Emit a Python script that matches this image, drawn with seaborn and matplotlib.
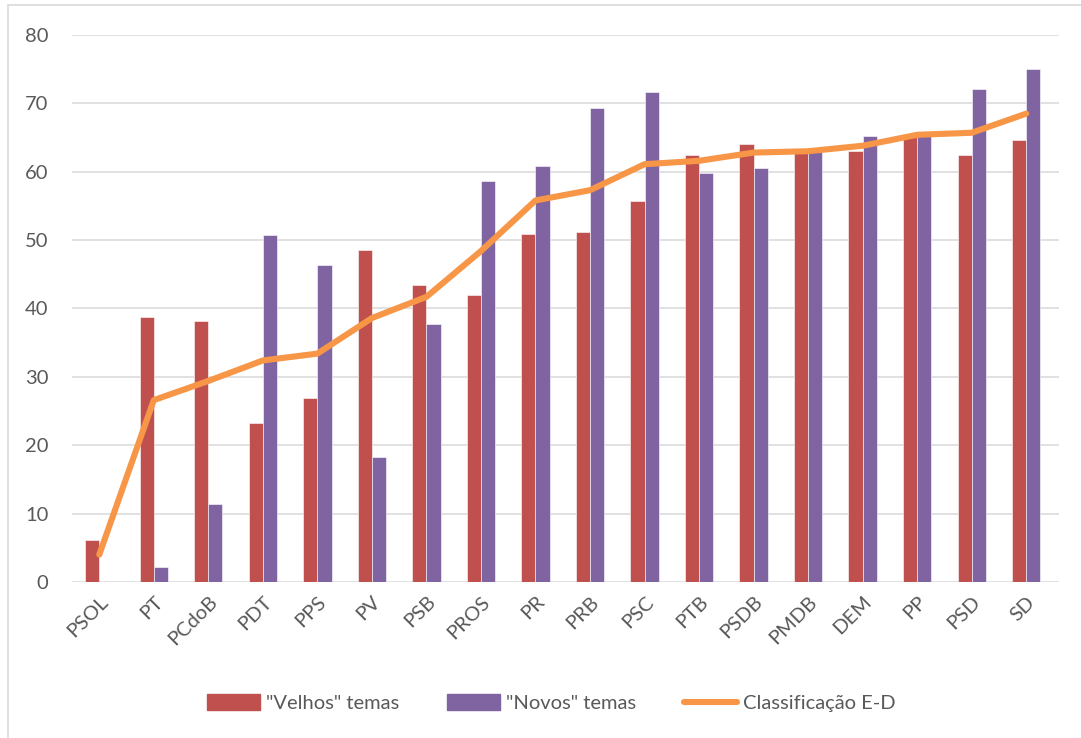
import matplotlib
matplotlib.use("Agg")
import matplotlib.pyplot as plt
from matplotlib.patches import Patch, Rectangle
from matplotlib.lines import Line2D
import seaborn as sns
import pandas as pd

partidos = ["PSOL", "PT", "PCdoB", "PDT", "PPS", "PV", "PSB", "PROS", "PR", "PRB",
            "PSC", "PTB", "PSDB", "PMDB", "DEM", "PP", "PSD", "SD"]
velhos = [6.2, 38.7, 38.2, 23.2, 26.9, 48.6, 43.5, 41.9, 50.9, 51.2,
          55.7, 62.4, 64.0, 62.8, 63.0, 65.1, 62.4, 64.6]
novos = [0.0, 2.2, 11.4, 50.8, 46.4, 18.3, 37.8, 58.7, 60.8, 69.3,
         71.7, 59.8, 60.6, 62.9, 65.2, 65.2, 72.1, 75.0]
classificacao = [4.0, 26.6, 29.4, 32.4, 33.4, 38.6, 41.7, 48.4, 55.8, 57.3,
                 61.1, 61.6, 62.8, 63.0, 63.8, 65.4, 65.7, 68.5]
series_labels = ['"Velhos" temas', '"Novos" temas', 'Classificação E-D']

RED = "#C0504D"
PURPLE = "#8064A2"
ORANGE = "#F79646"
TEXT = "#595959"
GRID = "#D9D9D9"
FS = 14.5

df = pd.DataFrame({
    "partido": partidos * 2,
    "valor": velhos + novos,
    "tema": [series_labels[0]] * len(partidos) + [series_labels[1]] * len(partidos),
})

sns.set_theme(style="white")
plt.rcParams["font.family"] = ["Lato", "DejaVu Sans"]

W, H = 1081, 738
fig = plt.figure(figsize=(W / 100, H / 100), dpi=100)
ax = fig.add_axes([0.0666, 0.2114, 0.913, 0.7412])

sns.barplot(data=df, x="partido", y="valor", hue="tema", order=partidos,
            hue_order=series_labels[:2], palette=[RED, PURPLE],
            width=0.52, gap=0, saturation=1, errorbar=None,
            edgecolor="white", linewidth=0.4, legend=False, ax=ax, zorder=2)

sns.pointplot(x=partidos, y=classificacao, order=partidos, color=ORANGE,
              markers="", linestyles="-", linewidth=4.4, errorbar=None,
              ax=ax, zorder=3)
for ln in ax.lines:
    ln.set_solid_capstyle("round")
    ln.set_solid_joinstyle("round")

ax.set_ylim(0, 80)
ax.set_xlim(-0.5, len(partidos) - 0.5 + 0.1)
ax.set_yticks(range(0, 81, 10))
ax.grid(axis="y", color=GRID, linewidth=1.1, zorder=0)
ax.set_axisbelow(True)
for s in ax.spines.values():
    s.set_visible(False)
ax.tick_params(axis="both", length=0, colors=TEXT, labelsize=FS)
ax.tick_params(axis="y", pad=17)
ax.set_xlabel("")
ax.set_ylabel("")
plt.setp(ax.get_yticklabels(), ha="right")
plt.setp(ax.get_xticklabels(), rotation=45, ha="right", rotation_mode="anchor")
ax.tick_params(axis="x", pad=8)

handles = [
    Patch(facecolor=RED, edgecolor=RED),
    Patch(facecolor=PURPLE, edgecolor=PURPLE),
    Line2D([0], [0], color=ORANGE, linewidth=4.4, solid_capstyle="round"),
]
fig.legend(handles, series_labels, loc="center", bbox_to_anchor=(0.51, 0.047),
           ncol=3, frameon=False, fontsize=FS, labelcolor=TEXT,
           handlelength=2.6, handleheight=0.8, handletextpad=0.3,
           columnspacing=2.4)

# chart-area frame: only left and top edges fall inside the image
fig.patches.append(Rectangle((8 / W, -0.05), 1.2, 1.05 - 5 / H + 0.0, transform=fig.transFigure,
                             fill=False, edgecolor=GRID, linewidth=1.2))

fig.savefig("out.png", dpi=100)
